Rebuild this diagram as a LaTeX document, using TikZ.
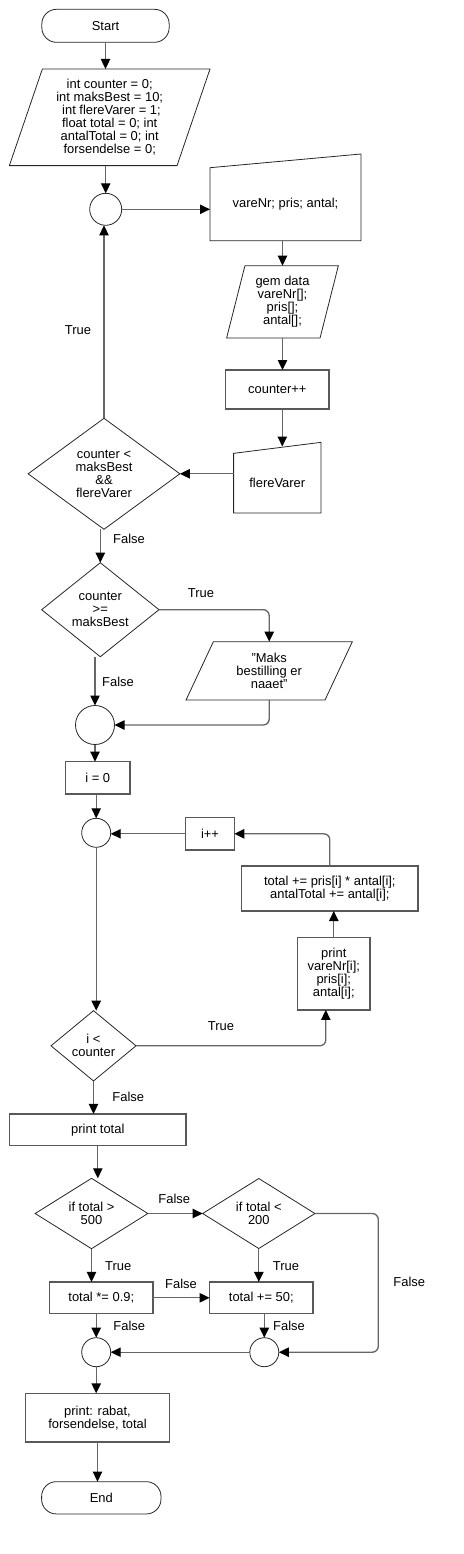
\documentclass[tikz,border=0pt]{standalone}
\usepackage{fontspec}
\setmainfont{Liberation Sans}
\usetikzlibrary{arrows.meta,calc}
\begin{document}
\begin{tikzpicture}[x=0.75pt,y=-0.75pt,
  every node/.style={font=\fontsize{9.7}{9.7}\selectfont, inner sep=0pt, outer sep=0pt, align=center},
  boxline/.style={draw=black!65, line width=0.9pt},
  shapeline/.style={draw=black!85, line width=0.6pt},
  rbox/.style={rectangle, boxline},
  term/.style={rectangle, rounded corners=11pt, shapeline},
  hole/.style={rectangle},
  junction/.style={circle, shapeline},
  conn/.style={draw=black!60, line width=1pt},
  arr/.style={conn, -{Triangle[length=7.5pt,width=7pt,color=black]}},
  lbl/.style={}
]
\useasboundingbox (0,0) rectangle (464,1554);

% ---- nodes ----
\node[term, minimum width=95.5pt, minimum height=24.75pt] (start) at (105.5,25.8) {Start};
\node[hole, minimum width=150.5pt, minimum height=72.5pt] (p1) at (109.7,117.3)
  {int counter = 0;\\ int maksBest = 10;\\ \ int flereVarer = 1;\\ float total = 0; int\\ antalTotal = 0; int\\ forsendelse = 0;};
\draw[shapeline] ($(p1.north west)+(33,0)$) -- (p1.north east) -- ($(p1.south east)-(33,0)$) -- (p1.south west) -- cycle;

\node[junction, minimum size=24pt] (c1) at (105.7,209.3) {};

\node[hole, minimum width=113.25pt, minimum height=54.75pt] (vin) at (285.5,204.2) {vareNr; pris; antal;};
\draw[shapeline] (vin.north west) -- ($(vin.north east)+(0,-13.7)$) -- (vin.south east) -- (vin.south west) -- cycle;

\node[hole, minimum width=83.8pt, minimum height=54.2pt] (gem) at (282.5,301.8) {gem data\\ vareNr[];\\ pris[];\\ antal[];};
\draw[shapeline] ($(gem.north west)+(18.3,0)$) -- (gem.north east) -- ($(gem.south east)-(18.3,0)$) -- (gem.south west) -- cycle;

\node[rbox, minimum width=77.5pt, minimum height=29.25pt] (cpp) at (277.3,389.5) {counter++};

\node[hole, minimum width=65.5pt, minimum height=44.8pt] (fv) at (277.3,483.2) {flereVarer};
\draw[shapeline] (fv.north west) -- ($(fv.north east)+(0,-11)$) -- (fv.south east) -- (fv.south west) -- cycle;
\coordinate (fvin) at (282.3,446.5);

\node[hole, minimum width=113.8pt, minimum height=83.25pt] (d1) at (104,473.8) {counter <\\ maksBest\\ \&\&\\ flereVarer};
\draw[shapeline] (d1.north) -- (d1.east) -- (d1.south) -- (d1.west) -- cycle;

\node[hole, minimum width=88pt, minimum height=70.5pt] (d2) at (100.3,609.7) {counter\\ >=\\ maksBest};
\draw[shapeline] (d2.north) -- (d2.east) -- (d2.south) -- (d2.west) -- cycle;

\node[hole, minimum width=124.7pt, minimum height=43.7pt] (p3) at (269.2,670.8) {"Maks\\ bestilling er\\ naaet"};
\draw[shapeline] ($(p3.north west)+(27.3,0)$) -- (p3.north east) -- ($(p3.south east)-(27.3,0)$) -- (p3.south west) -- cycle;

\node[junction, minimum size=29.25pt] (c2) at (95,725) {};
\node[rbox, minimum width=48.2pt, minimum height=24.2pt] (i0) at (97.8,777.8) {i = 0};
\node[junction, minimum size=21.75pt] (c3) at (96.2,832.8) {};
\node[rbox, minimum width=36.5pt, minimum height=24.2pt] (ipp) at (210,833.8) {i++};
\node[rbox, minimum width=132.2pt, minimum height=33.75pt] (tot) at (329.8,888.5) {total += pris[i] * antal[i];\\ antalTotal += antal[i];};
\node[rbox, minimum width=54.2pt, minimum height=54.2pt] (pr) at (333.8,973.8) {print\\ vareNr[i];\\ pris[i];\\ antal[i];};

\node[hole, minimum width=63.75pt, minimum height=52.7pt] (d3) at (93.5,1045.8) {i <\\ counter};
\draw[shapeline] (d3.north) -- (d3.east) -- (d3.south) -- (d3.west) -- cycle;

\node[rbox, minimum width=132.2pt, minimum height=23.8pt] (pt) at (97.8,1129.8) {print total};

\node[hole, minimum width=84.5pt, minimum height=52.8pt] (d4) at (91.5,1213.5) {if total >\\ 500};
\draw[shapeline] (d4.north) -- (d4.east) -- (d4.south) -- (d4.west) -- cycle;
\node[hole, minimum width=84.2pt, minimum height=52.5pt] (d5) at (258.8,1213.5) {if total <\\ 200};
\draw[shapeline] (d5.north) -- (d5.east) -- (d5.south) -- (d5.west) -- cycle;
\coordinate (rt) at (378.3,1213.5);

\node[rbox, minimum width=77.5pt, minimum height=23.8pt] (t9) at (101.3,1297.8) {total *= 0.9;};
\node[rbox, minimum width=77.5pt, minimum height=23.8pt] (t50) at (261.3,1297.8) {total += 50;};
\node[junction, minimum size=21.75pt] (c4) at (96.2,1352.2) {};
\node[junction, minimum size=21.75pt] (c5) at (264.3,1352.2) {};
\node[rbox, minimum width=107.7pt, minimum height=36.5pt] (prf) at (97.5,1417.7) {print: rabat,\\ forsendelse, total};
\node[term, minimum width=89.5pt, minimum height=24.2pt] (end) at (101.3,1497.8) {End};

% ---- labels ----
\node[lbl] (l1) at (78,330) {True};
\node[lbl] (l2) at (129,538.7) {False};
\node[lbl] (l3) at (201,592.7) {True};
\node[lbl] (l4) at (118,681.7) {False};
\node[lbl] (l5) at (221,1025.7) {True};
\node[lbl] (l6) at (128.3,1097.3) {False};
\node[lbl] (l7) at (174.3,1199.3) {False};
\node[lbl] (l8) at (118.3,1265.7) {True};
\node[lbl] (l9) at (286,1265.7) {True};
\node[lbl] (l10) at (181,1284.3) {False};
\node[lbl] (l11) at (409.3,1281.7) {False};
\node[lbl] (l12) at (129.3,1326.3) {False};
\node[lbl] (l13) at (289,1326.3) {False};

% ---- connectors ----
\draw[arr] (start.south) -- (start.south |- p1.north);
\draw[arr] (c1.north |- p1.south) -- (c1.north);
\draw[arr] (c1.east) -- (c1.east -| vin.west);
\draw[arr] (vin.south -| gem.north) -- (gem.north);
\draw[arr] (gem.south) -- (gem.south |- cpp.north);
\draw[arr] (fvin |- cpp.south) -- (fvin);
\draw[arr] (fv.west |- d1.east) -- (d1.east);
\draw[arr] (d1.north) -- (d1.north |- c1.south);
\draw[arr] (d2.north |- d1.south) -- (d2.north);
\draw[arr, rounded corners=4.5pt] (d2.east) -| (p3.north);
\draw[arr, rounded corners=4.5pt] (p3.south) |- (c2.east);
\draw[arr] (c2.north |- d2.south) -- (c2.north);
\draw[arr] (c2.south) -- (c2.south |- i0.north);
\draw[arr] (c3.north |- i0.south) -- (c3.north);
\draw[arr] (c3.south) -- (c3.south |- d3.north);
\draw[arr, rounded corners=4.5pt] (d3.east) -| ([xshift=-6pt]pr.south);
\draw[arr] (pr.north) -- (pr.north |- tot.south);
\draw[arr, rounded corners=4.5pt] (tot.north) |- (ipp.east);
\draw[arr] (ipp.west) -- (ipp.west -| c3.east);
\draw[arr] (d3.south) -- (d3.south |- pt.north);
\draw[arr] (pt.south) -- (pt.south |- d4.north);
\draw[arr] (d4.east) -- (d5.west);
\draw[arr] (d4.south) -- (d4.south |- t9.north);
\draw[arr] (d5.south) -- (d5.south |- t50.north);
\draw[arr] (t9.east) -- (t50.west);
\draw[arr, rounded corners=4.5pt] (d5.east) -- (rt) |- (c5.east);
\draw[arr] (c4.north |- t9.south) -- (c4.north);
\draw[arr] (c5.north |- t50.south) -- (c5.north);
\draw[arr] (c5.west) -- (c4.east);
\draw[arr] (c4.south) -- (c4.south |- prf.north);
\draw[arr] (prf.south) -- (prf.south |- end.north);
\end{tikzpicture}
\end{document}
